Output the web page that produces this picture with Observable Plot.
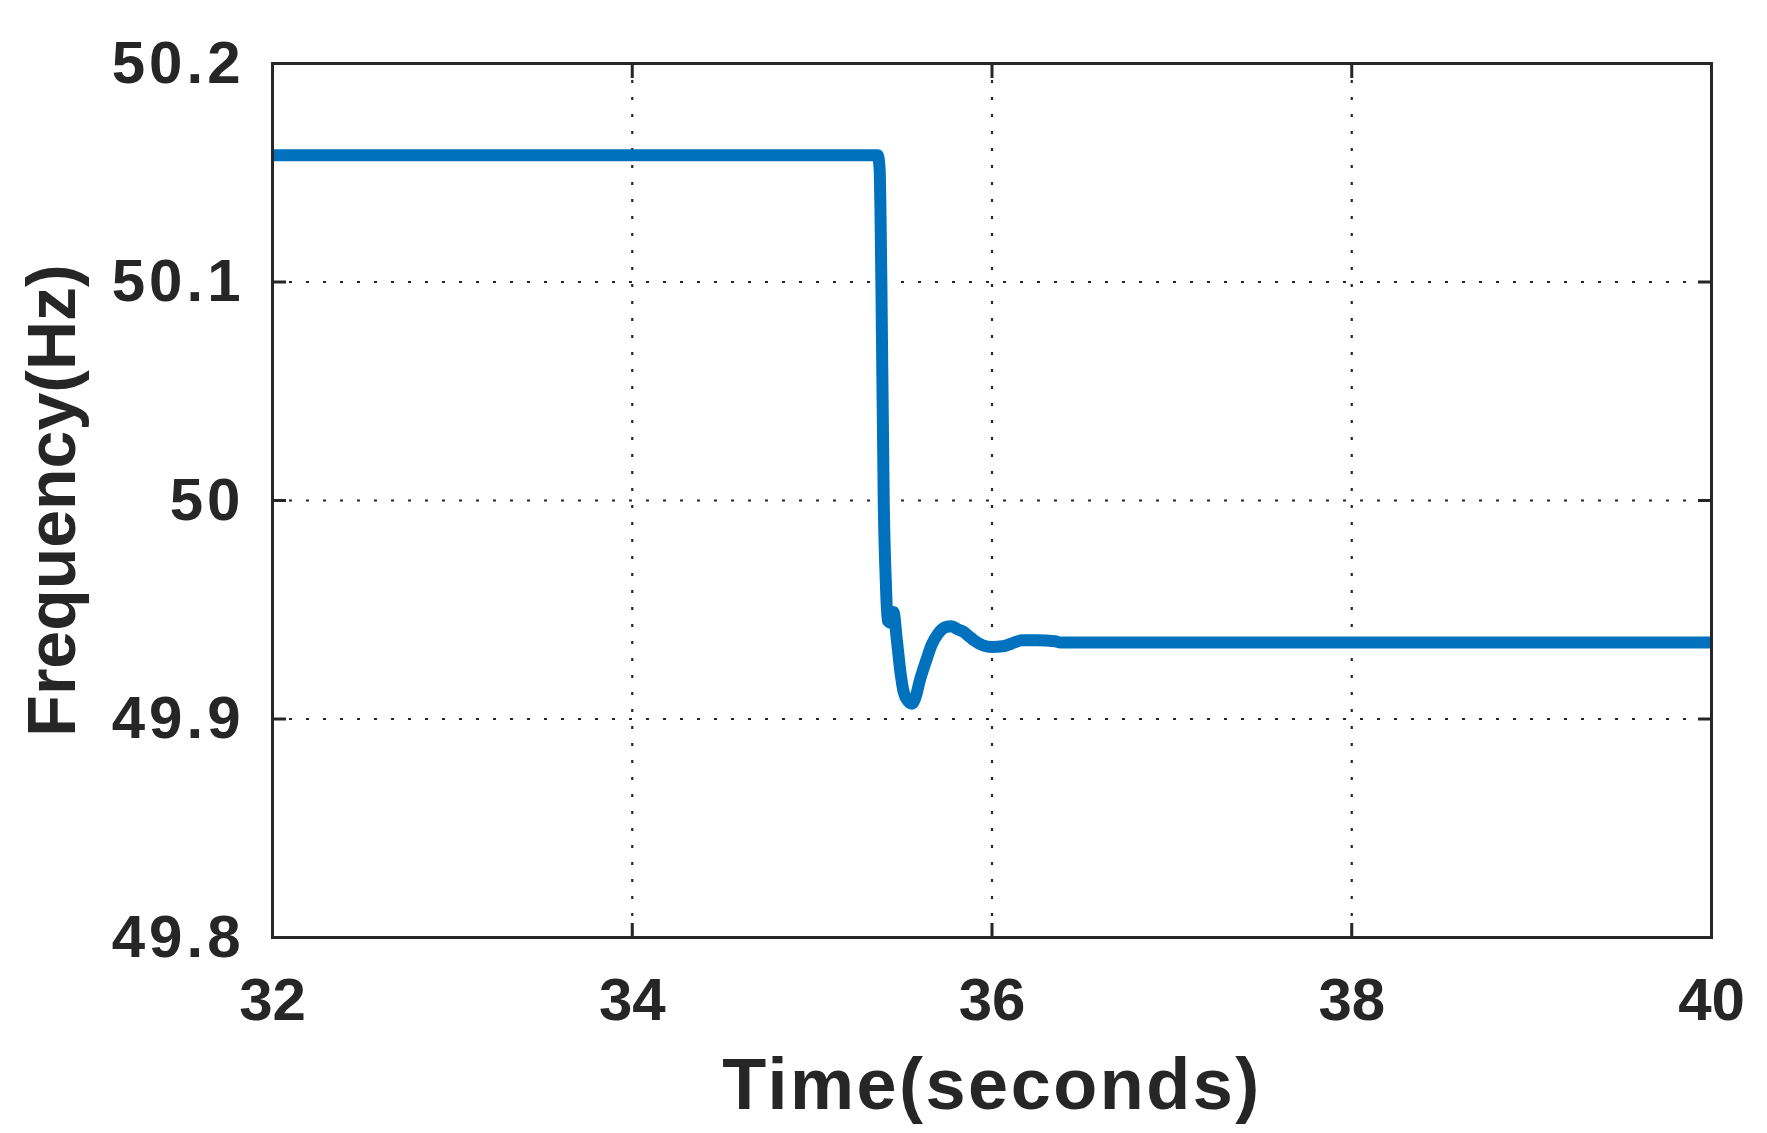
<!DOCTYPE html>
<html>
<head>
<meta charset="utf-8">
<script src="https://cdn.jsdelivr.net/npm/d3@7"></script>
<script src="https://cdn.jsdelivr.net/npm/@observablehq/plot@0.6"></script>
<style>
  html, body { margin: 0; padding: 0; background: #fff; }
  #chart svg { display: block; }
</style>
</head>
<body>
<div id="chart"></div>
<script>
// Time (s) and frequency (Hz) samples
const time = [32.0, 35.365, 35.375, 35.385, 35.398, 35.41, 35.42, 35.437, 35.452, 35.47, 35.49, 35.51, 35.535, 35.555, 35.575, 35.60, 35.635, 35.665, 35.70, 35.74, 35.775, 35.81, 35.84, 35.87, 35.90, 35.95, 36.0, 36.06, 36.11, 36.17, 36.25, 36.35, 36.38, 40.0];
const freq = [50.158, 50.158, 50.152, 50.10, 50.0, 49.962, 49.945, 49.944, 49.949, 49.937, 49.922, 49.912, 49.908, 49.907, 49.910, 49.918, 49.927, 49.934, 49.939, 49.942, 49.9425, 49.941, 49.940, 49.938, 49.936, 49.9337, 49.933, 49.9333, 49.9346, 49.936, 49.936, 49.9356, 49.935, 49.935];

const xTicks = [32, 34, 36, 38, 40];
const yTicks = [49.8, 49.9, 50.0, 50.1, 50.2];
const xTickLabels = ["32", "34", "36", "38", "40"];
const yTickLabels = ["49.8", "49.9", "50", "50.1", "50.2"];
const xLabel = "Time(seconds)";
const yLabel = "Frequency(Hz)";

const data = time.map((t, i) => ({t, f: freq[i]}));
const ink = "#262626";
const font = "'Liberation Sans', Arial, Helvetica, sans-serif";

const chart = Plot.plot({
  width: 1767,
  height: 1133,
  marginLeft: 272,
  marginRight: 56,
  marginTop: 63,
  marginBottom: 196,
  style: {fontFamily: font, color: ink, background: "#fff"},
  x: {domain: [32, 40]},
  y: {domain: [49.8, 50.2]},
  marks: [
    Plot.gridX(xTicks, {stroke: ink, strokeOpacity: 1, strokeWidth: 2.2, strokeDasharray: "3,14"}),
    Plot.gridY(yTicks, {stroke: ink, strokeOpacity: 1, strokeWidth: 2.2, strokeDasharray: "3,14"}),
    Plot.line(data, {x: "t", y: "f", stroke: "#0072BD", strokeWidth: 12, strokeLinejoin: "round", strokeLinecap: "butt", curve: "monotone-x"}),
    Plot.axisX(xTicks, {anchor: "bottom", tickSize: -14, tickPadding: 54, strokeWidth: 3, stroke: ink,
      tickFormat: (d) => xTickLabels[xTicks.indexOf(d)], fontSize: 60, fontWeight: "bold", fill: ink, label: null}),
    Plot.axisX(xTicks, {anchor: "top", tickSize: -14, strokeWidth: 3, stroke: ink, tickFormat: () => "", label: null}),
    Plot.axisY(yTicks, {anchor: "left", tickSize: -14, tickPadding: 42, strokeWidth: 3, stroke: ink,
      tickFormat: (d) => yTickLabels[yTicks.indexOf(d)], fontSize: 60, fontWeight: "bold", fill: ink, label: null}),
    Plot.axisY(yTicks, {anchor: "right", tickSize: -14, strokeWidth: 3, stroke: ink, tickFormat: () => "", label: null}),
    Plot.frame({stroke: ink, strokeWidth: 3}),
    Plot.text([xLabel], {text: (d) => d, frameAnchor: "bottom", textAnchor: "middle", lineAnchor: "middle", dy: 148, fontSize: 72, fontWeight: "bold", fill: ink}),
    Plot.text([yLabel], {text: (d) => d, frameAnchor: "left", textAnchor: "middle", lineAnchor: "middle", rotate: -90, dx: -219, fontSize: 68, fontWeight: "bold", fill: ink})
  ]
});
// slightly wider letter spacing, as in the reference's bold labels
d3.select(chart).selectAll('g[aria-label="y-axis tick label"]').style("letter-spacing", "4px");
d3.select(chart).selectAll('g[aria-label="text"]').filter((d, i) => i === 0).selectAll("text").style("letter-spacing", "2.5px");
document.getElementById("chart").append(chart);
</script>
</body>
</html>
